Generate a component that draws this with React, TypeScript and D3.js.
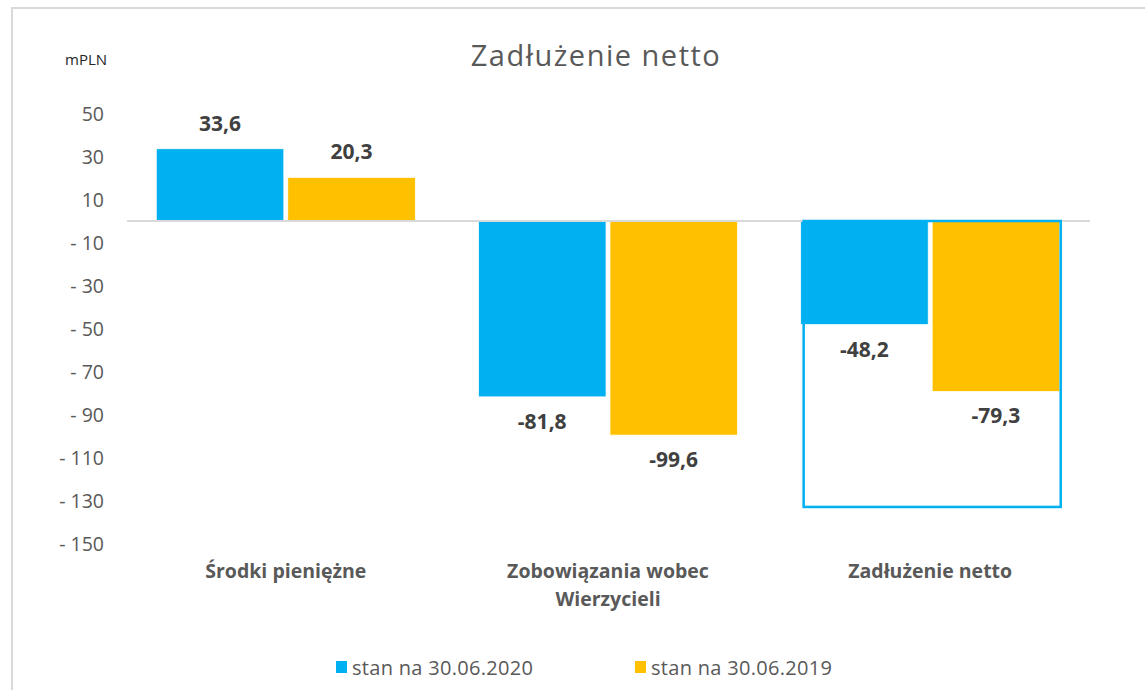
import React from "react";
import * as d3 from "d3";

const categories: string[][] = [["Środki pieniężne"], ["Zobowiązania wobec", "Wierzycieli"], ["Zadłużenie netto"]];
const seriesNames = ["stan na 30.06.2020", "stan na 30.06.2019"];
const values2020 = [33.6, -81.8, -48.2];
const values2019 = [20.3, -99.6, -79.3];
const yTicks = [50, 30, 10, -10, -30, -50, -70, -90, -110, -130, -150];
const highlightCategory = 2;
const highlightValue = -133;
const colors = ["#00B0F0", "#FFC000"];

const W = 1145;
const H = 690;
const FONT = "'Open Sans', sans-serif";

export default function App() {
  const y = d3.scaleLinear().domain([-150, 50]).range([543.5, 113.5]);
  const x0 = d3.scaleBand<number>().domain([0, 1, 2]).range([126, 1090]).paddingInner(0.196).paddingOuter(0.094);
  const x1 = d3.scaleBand<number>().domain([0, 1]).range([0, x0.bandwidth()]).paddingInner(0.03);
  const series = [values2020, values2019];
  const fmt = (v: number) => v.toFixed(1).replace(".", ",");
  const tickFmt = (v: number) => (v < 0 ? "- " + Math.abs(v) : String(v));

  const hx = x0(highlightCategory)! + 3;
  const hw = x0.bandwidth() - 2;

  return (
    <svg width={W} height={H} style={{ position: "absolute", left: 0, top: 0, display: "block" }}>
      <rect x={0} y={0} width={W} height={H} fill="#fff" />
      <path d={`M12,${H} V8 H${W}`} fill="none" stroke="#d9d9d9" strokeWidth={2} />
      <text x={596} y={66} textAnchor="middle" fontFamily={FONT} fontSize={29} letterSpacing={1.5} fill="#595959">Zadłużenie netto</text>
      <text x={65} y={65} fontFamily={FONT} fontSize={15} fill="#262626">mPLN</text>
      {yTicks.map((t) => (
        <text key={t} x={104} y={y(t)} dy="0.36em" textAnchor="end" fontFamily={FONT} fontSize={19.5} fill="#595959">{tickFmt(t)}</text>
      ))}
      {series.map((vals, si) =>
        vals.map((v, ci) => {
          const bx = x0(ci)! + x1(si)!;
          const top = Math.min(y(v), y(0));
          const h = Math.abs(y(v) - y(0));
          return (
            <rect key={`${si}-${ci}`} x={bx} y={top} width={x1.bandwidth()} height={h} fill={colors[si]} stroke="#fff" strokeWidth={0.75} />
          );
        })
      )}
      <line x1={127} x2={1090} y1={y(0)} y2={y(0)} stroke="#d9d9d9" strokeWidth={2} />
      <rect x={hx} y={y(0)} width={hw} height={y(highlightValue) - y(0)} fill="none" stroke="#00B0F0" strokeWidth={2.5} />
      {series.map((vals, si) =>
        vals.map((v, ci) => {
          const cx = x0(ci)! + x1(si)! + x1.bandwidth() / 2;
          const ty = v >= 0 ? y(v) - 18 : y(v) + 32;
          return (
            <text key={`l${si}-${ci}`} x={cx} y={ty} textAnchor="middle" fontFamily={FONT} fontWeight="bold" fontSize={21} fill="#404040">{fmt(v)}</text>
          );
        })
      )}
      {categories.map((lines, ci) => (
        <text key={`c${ci}`} textAnchor="middle" fontFamily={FONT} fontWeight="bold" fontSize={19.5} fill="#595959">
          {lines.map((l, li) => (
            <tspan key={li} x={x0(ci)! + x0.bandwidth() / 2} y={578 + li * 28}>{l}</tspan>
          ))}
        </text>
      ))}
      {seriesNames.map((n, i) => (
        <g key={n} transform={`translate(${336 + i * 299},0)`}>
          <rect x={0} y={661} width={11} height={12} fill={colors[i]} />
          <text x={16} y={675} fontFamily={FONT} fontSize={20} letterSpacing={0.3} fill="#595959">{n}</text>
        </g>
      ))}
    </svg>
  );
}
